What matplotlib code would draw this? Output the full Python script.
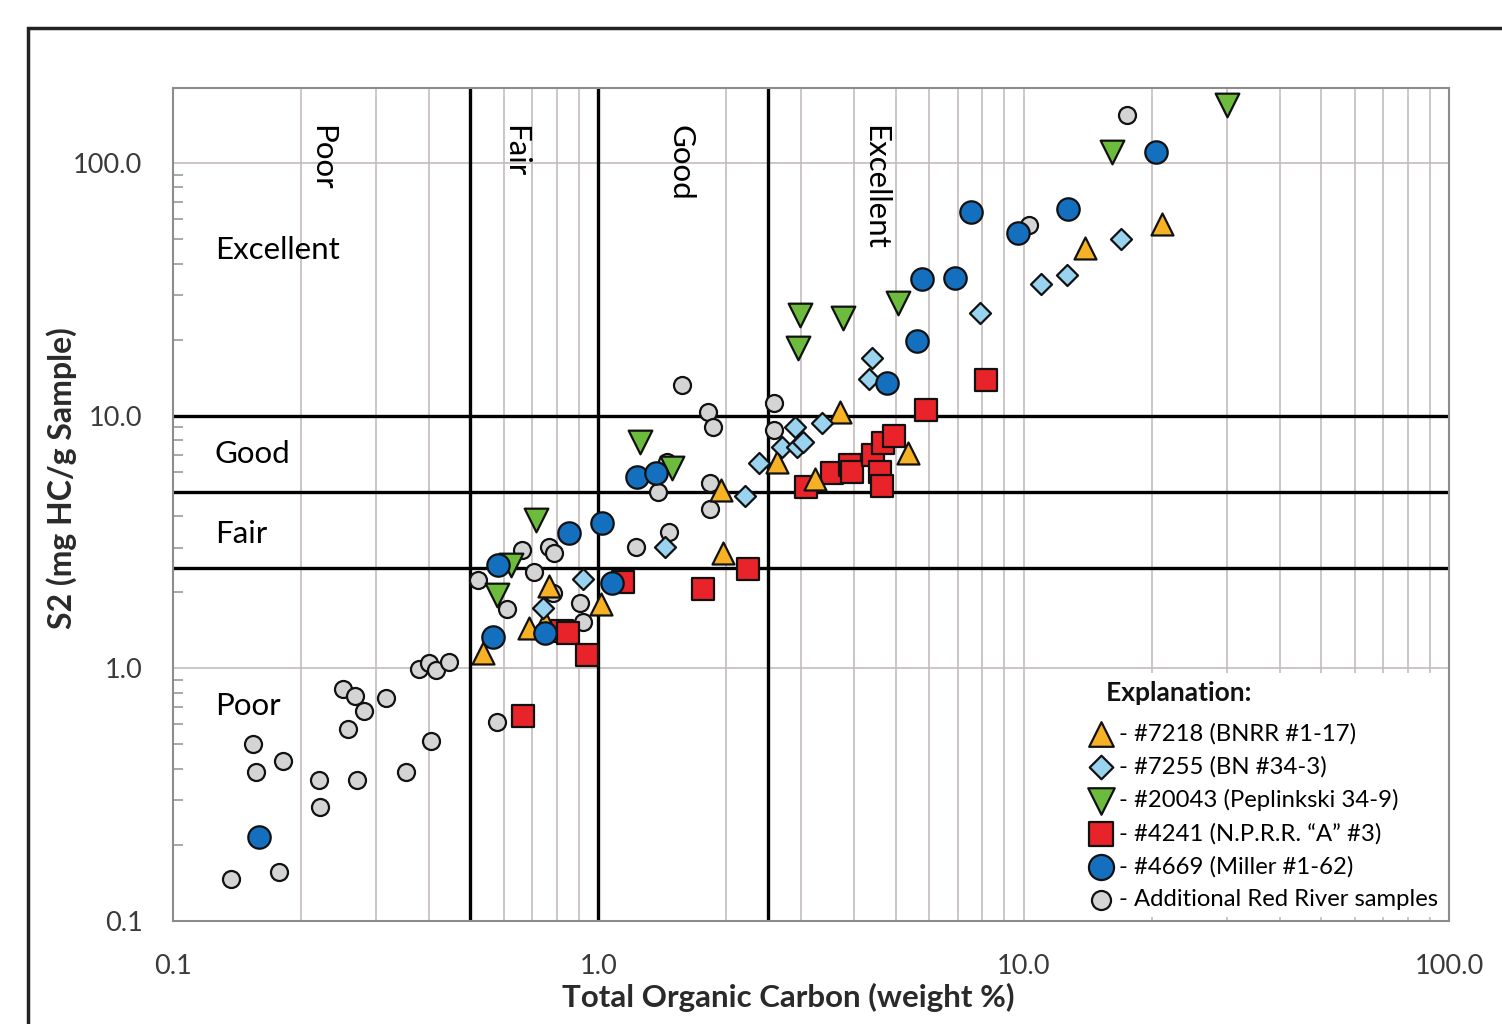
import matplotlib
matplotlib.use("Agg")
import matplotlib.pyplot as plt
from matplotlib.patches import Rectangle
from matplotlib.ticker import FixedLocator, LogLocator, NullFormatter, FixedFormatter
import matplotlib.transforms as mtransforms

plt.rcParams['font.family'] = ['Lato', 'DejaVu Sans']

# ---------------- data (TOC wt%, S2 mg HC/g) ----------------
gray_toc = [0.137, 0.1775, 0.154, 0.157, 0.181, 0.2205, 0.222, 0.271, 0.251, 0.268,
            0.281, 0.258, 0.317, 0.353, 0.404, 0.379, 0.400, 0.415, 0.446, 0.578,
            0.521, 0.610, 0.661, 0.706, 0.766, 0.787, 0.783, 0.906, 0.920, 1.226,
            1.381, 1.466, 1.450, 1.573, 1.810, 1.860, 1.830, 1.830, 2.588, 2.588,
            10.29, 17.50]
gray_s2 = [0.147, 0.156, 0.502, 0.389, 0.430, 0.361, 0.283, 0.361, 0.828, 0.777,
           0.678, 0.575, 0.763, 0.389, 0.516, 0.994, 1.049, 0.985, 1.059, 0.613,
           2.236, 1.716, 2.94, 2.405, 3.02, 2.86, 1.986, 1.814, 1.525, 3.02,
           4.99, 3.46, 6.55, 13.22, 10.33, 9.01, 5.41, 4.27, 11.21, 8.77,
           56.8, 154.7]

red_toc = [0.665, 0.822, 0.849, 0.941, 1.143, 1.762, 2.248, 3.08, 3.54, 3.91,
           3.95, 4.42, 4.60, 4.65, 4.67, 4.96, 5.89, 8.15]
red_s2 = [0.647, 1.405, 1.379, 1.129, 2.195, 2.06, 2.47, 5.22, 5.93, 6.37,
          5.98, 6.98, 5.98, 5.27, 7.79, 8.31, 10.52, 13.83]

orange_toc = [0.536, 0.687, 0.749, 0.766, 1.015, 1.964, 1.943, 2.63, 3.23, 3.70,
              5.35, 13.94, 21.15]
orange_s2 = [1.15, 1.444, 1.525, 2.117, 1.797, 2.86, 5.08, 6.55, 5.61, 10.33,
             7.11, 46.0, 57.3]

diamond_toc = [0.741, 0.920, 1.435, 2.212, 2.386, 2.703, 2.93, 3.03, 2.90, 3.36,
               4.33, 4.40, 7.90, 10.98, 12.65, 16.93]
diamond_s2 = [1.732, 2.256, 3.02, 4.81, 6.49, 7.51, 7.51, 7.86, 9.01, 9.35,
              13.96, 16.9, 25.5, 33.2, 36.0, 50.0]

green_toc = [0.578, 0.623, 0.714, 1.253, 1.490, 2.948, 2.98, 3.76, 5.07, 16.13, 30.1]
green_s2 = [1.950, 2.564, 3.86, 7.86, 6.20, 18.5, 25.0, 24.3, 27.9, 110.5, 169.5]

blue_toc = [0.159, 0.5655, 0.581, 0.749, 0.853, 1.020, 1.077, 1.233, 1.366, 4.77,
            5.61, 5.77, 6.90, 7.52, 9.70, 12.72, 20.47]
blue_s2 = [0.215, 1.330, 2.564, 1.379, 3.43, 3.76, 2.176, 5.71, 5.93, 13.46,
           19.74, 34.7, 35.0, 63.9, 52.8, 65.7, 110.5]

toc_thresholds = [0.5, 1.0, 2.5]
s2_thresholds = [2.5, 5.0, 10.0]

tick_values = [0.1, 1.0, 10.0, 100.0]
tick_labels = ["0.1", "1.0", "10.0", "100.0"]

legend_labels = ["- #7218 (BNRR #1-17)", "- #7255 (BN #34-3)",
                 "- #20043 (Peplinkski 34-9)", "- #4241 (N.P.R.R. \u201cA\u201d #3)",
                 "- #4669 (Miller #1-62)", "- Additional Red River samples"]

# ---------------- figure ----------------
fig = plt.figure(figsize=(15.02, 10.24), dpi=100)
ax = fig.add_axes([173/1502, 1-921/1024, (1449-173)/1502, (921-88)/1024])

ax.set_xscale('log')
ax.set_yscale('log')
ax.set_xlim(0.1, 100)
ax.set_ylim(0.1, 198)

gridc = '#c4bcbc'
ax.xaxis.set_major_locator(FixedLocator(tick_values))
ax.xaxis.set_major_formatter(FixedFormatter(tick_labels))
ax.xaxis.set_minor_locator(LogLocator(base=10, subs=range(2, 10)))
ax.xaxis.set_minor_formatter(NullFormatter())
ax.yaxis.set_major_locator(FixedLocator(tick_values))
ax.yaxis.set_major_formatter(FixedFormatter(tick_labels))
ax.yaxis.set_minor_locator(LogLocator(base=10, subs=range(2, 10)))
ax.yaxis.set_minor_formatter(NullFormatter())

ax.grid(True, which='major', axis='both', color=gridc, lw=1.2, zorder=0)
ax.grid(True, which='minor', axis='x', color=gridc, lw=1.2, zorder=0)
ax.set_axisbelow(True)

ax.tick_params(axis='both', which='major', length=0, labelsize=19.5,
               labelcolor='#3a3a3a')
ax.tick_params(axis='x', which='major', pad=24)
ax.tick_params(axis='y', which='major', pad=22)
ax.tick_params(axis='x', which='minor', length=0)
ax.tick_params(axis='y', which='minor', direction='in', length=7, width=1.2,
               color='#999999')
for s in ax.spines.values():
    s.set_color('#8c8c8c')
    s.set_linewidth(1.5)

for v in toc_thresholds:
    ax.axvline(v, color='black', lw=2.4, zorder=2)
for v in s2_thresholds:
    ax.axhline(v, color='black', lw=2.4, zorder=2)

ec = '#111111'
lw = 1.6
h_gray = ax.scatter(gray_toc, gray_s2, s=150, marker='o', facecolor='#d4d4d4',
                    edgecolor=ec, linewidth=lw, zorder=3)
h_red = ax.scatter(red_toc, red_s2, s=250, marker='s', facecolor='#e8242a',
                   edgecolor=ec, linewidth=lw, zorder=4)
h_orange = ax.scatter(orange_toc, orange_s2, s=250, marker='^', facecolor='#f7b124',
                      edgecolor=ec, linewidth=lw, zorder=5)
h_diamond = ax.scatter(diamond_toc, diamond_s2, s=115, marker='D', facecolor='#9ad3f0',
                       edgecolor=ec, linewidth=lw, zorder=6)
h_green = ax.scatter(green_toc, green_s2, s=290, marker='v', facecolor='#6dbb3c',
                     edgecolor=ec, linewidth=lw, zorder=7)
h_blue = ax.scatter(blue_toc, blue_s2, s=260, marker='o', facecolor='#1470be',
                    edgecolor=ec, linewidth=lw, zorder=8)

# category labels
blend = mtransforms.blended_transform_factory(ax.transData, ax.transAxes)
for xv, txt in [(0.224, "Poor"), (0.637, "Fair"), (1.556, "Good"), (4.47, "Excellent")]:
    ax.text(xv, 0.956, txt, transform=blend, rotation=270, ha='center', va='top',
            fontsize=22.5, color='black', zorder=9)
for yv, txt in [(45.2, "Excellent"), (7.05, "Good"), (3.40, "Fair"), (0.71, "Poor")]:
    ax.text(0.1255, yv, txt, ha='left', va='center', fontsize=22.5, color='black', zorder=9)

ax.set_xlabel("Total Organic Carbon (weight %)", fontsize=22.5, fontweight='bold',
              color='#2a2a2a')
ax.xaxis.set_label_coords((788-173)/1276, (921-983)/833)
ax.set_ylabel("S2 (mg HC/g Sample)", fontsize=23, fontweight='bold', color='#2a2a2a')
ax.yaxis.set_label_coords((77-173)/1276, (921-478)/833)

leg = ax.legend([h_orange, h_diamond, h_green, h_red, h_blue, h_gray], legend_labels,
                loc='lower right', bbox_to_anchor=(1.0, 0.0), frameon=True,
                fontsize=17.2, title="   Explanation:", scatterpoints=1,
                handletextpad=0.2, labelspacing=0.49, borderpad=0.3,
                handlelength=1.15, alignment='left', borderaxespad=0.15,
                markerscale=1.12)
leg.get_title().set_fontweight('bold')
leg.get_title().set_fontsize(19)
leg.get_title().set_color('#111111')
leg._legend_box.sep = 13
leg.get_frame().set_facecolor('white')
leg.get_frame().set_edgecolor('none')
leg.get_frame().set_alpha(1)
leg.get_frame().set_boxstyle('square', pad=0)
leg.set_zorder(20)

# outer frame
fig.patches.append(Rectangle((28/1502, -0.2), 1.3, 1-28/1024+0.2, fill=False,
                             edgecolor='#222222', lw=2.5, transform=fig.transFigure,
                             clip_on=False))

fig.savefig("out.png", dpi=100)
